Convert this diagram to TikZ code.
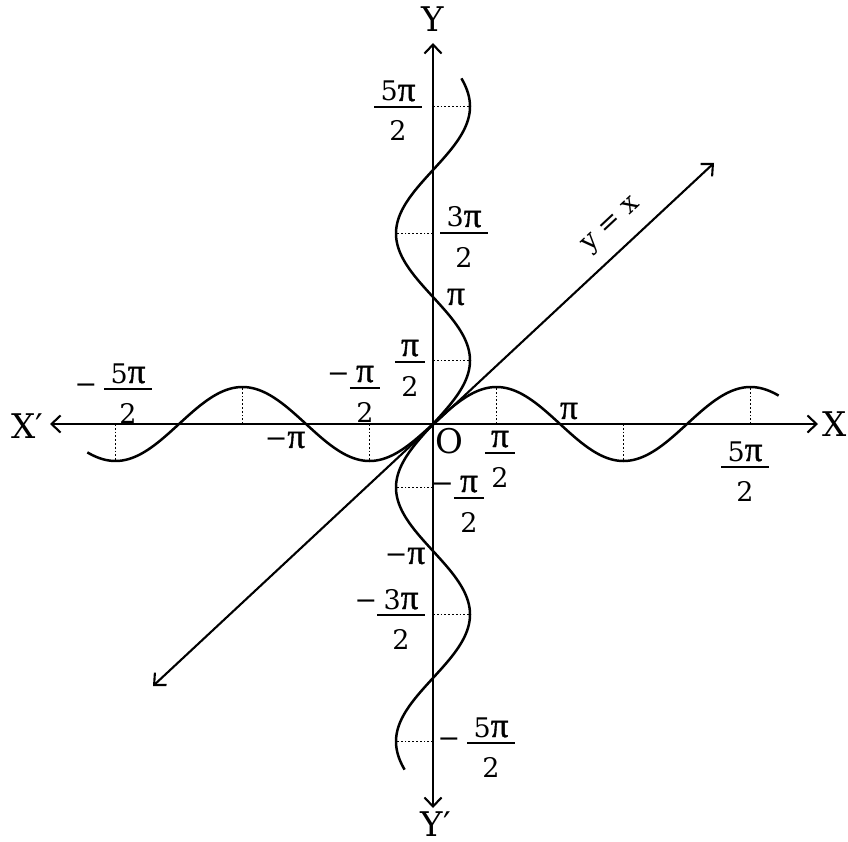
\documentclass[tikz,border=0pt]{standalone}
\usepackage{fontspec}
\setmainfont{DejaVu Serif}
\newfontfamily\grk[Scale=1.3,FakeBold=1.2]{Liberation Serif}
\usetikzlibrary{arrows.meta}
\newcommand\mypi{{\grk π}}
\tikzset{
  lab/.style={inner sep=0pt, font=\fontsize{27}{31}\selectfont},
  numer/.style={lab, inner xsep=6pt, anchor=base},
  denom/.style={lab, anchor=base},
  axl/.style={inner sep=0pt, font=\fontsize{34}{38}\selectfont},
  fbar/.style={line width=1.6pt},
  axis/.style={line width=2.1pt, arrows={Straight Barb[length=9pt,width=17pt]-Straight Barb[length=9pt,width=17pt]}},
  curve/.style={line width=2.5pt},
  dots/.style={line width=1.8pt, dash pattern=on 1.8pt off 2pt}
}
% fraction: name, x, bar y, numerator, denominator
\newcommand\fr[5]{%
  \coordinate (#1b) at ({#2},{#3});
  \node[numer] (#1n) at ({#2},{#3-6}) {#4};
  \node[denom] (#1d) at ({#2},{#3+34}) {#5};
  \draw[fbar] (#1n.west |- #1b) -- (#1n.east |- #1b);
}
% fraction with minus in numerator line
\newcommand\frm[5]{%
  \fr{#1}{#2}{#3}{#4}{#5}
  \node[lab, anchor=base east] (#1m) at (#1n.base west) {−};
}
\begin{document}
\begin{tikzpicture}[x=1pt,y=-1pt]
\useasboundingbox (0,0) rectangle (848,842);
% axes
\coordinate (O) at (433,424);
\coordinate (XL) at (50,424);
\coordinate (XR) at (818,424);
\coordinate (YT) at (433,43);
\coordinate (YB) at (433,808);
\coordinate (DL) at (153,686);
\coordinate (DR) at (714,163);
\draw[axis] (XL) -- (XR);
\draw[axis] (YB) -- (YT);
\draw[axis] (DL) -- (DR);
% curves
\draw[curve] plot[domain=-8.55:8.55, samples=300, smooth, variable=\t]
  ({433+40.425*\t},{424-37*sin(\t r)});
\draw[curve] plot[domain=-8.55:8.55, samples=300, smooth, variable=\t]
  ({433+37*sin(\t r)},{424-40.425*\t});
% dotted guides
\foreach \k/\s in {1/1,3/-1,5/1,-1/-1,-3/1,-5/-1}{
  \draw[dots] ({433+63.5*\k},424) -- ({433+63.5*\k},{424-37*\s});
  \draw[dots] (433,{424-63.5*\k}) -- ({433+37*\s},{424-63.5*\k});
}
% axis labels
\node[axl] (Y) at (433,19) {Y};
\node[axl] (Yp) at (436,824) {Y′};
\node[axl] (Xp) at (27,426) {X′};
\node[axl] (X) at (835,424) {X};
\node[axl] (Ol) at (449,441) {O};
% simple labels
\node[lab] (mpx) at (285,440) {−\mypi};
\node[lab] (px) at (569,411) {\mypi};
\node[lab] (py) at (456,297) {\mypi};
\node[lab] (mpy) at (405,556) {−\mypi};
% fractions
\fr{A}{128}{389}{5\mypi}{2}
\node[lab] (Am) at (86,389) {−};
\frm{B}{365}{388}{\mypi}{2}
\fr{C}{410}{362}{\mypi}{2}
\fr{D}{500}{453}{\mypi}{2}
\fr{E}{745}{467}{5\mypi}{2}
\fr{F}{464}{233}{3\mypi}{2}
\fr{G}{398}{107}{5\mypi}{2}
\frm{H}{469}{498}{\mypi}{2}
\frm{I}{401}{615}{3\mypi}{2}
\fr{J}{491}{743}{5\mypi}{2}
\node[lab] (Jm) at (449,743) {−};
% y = x
\node[lab, rotate=43] (yx) at (612,226) {y = x};
\end{tikzpicture}
\end{document}
